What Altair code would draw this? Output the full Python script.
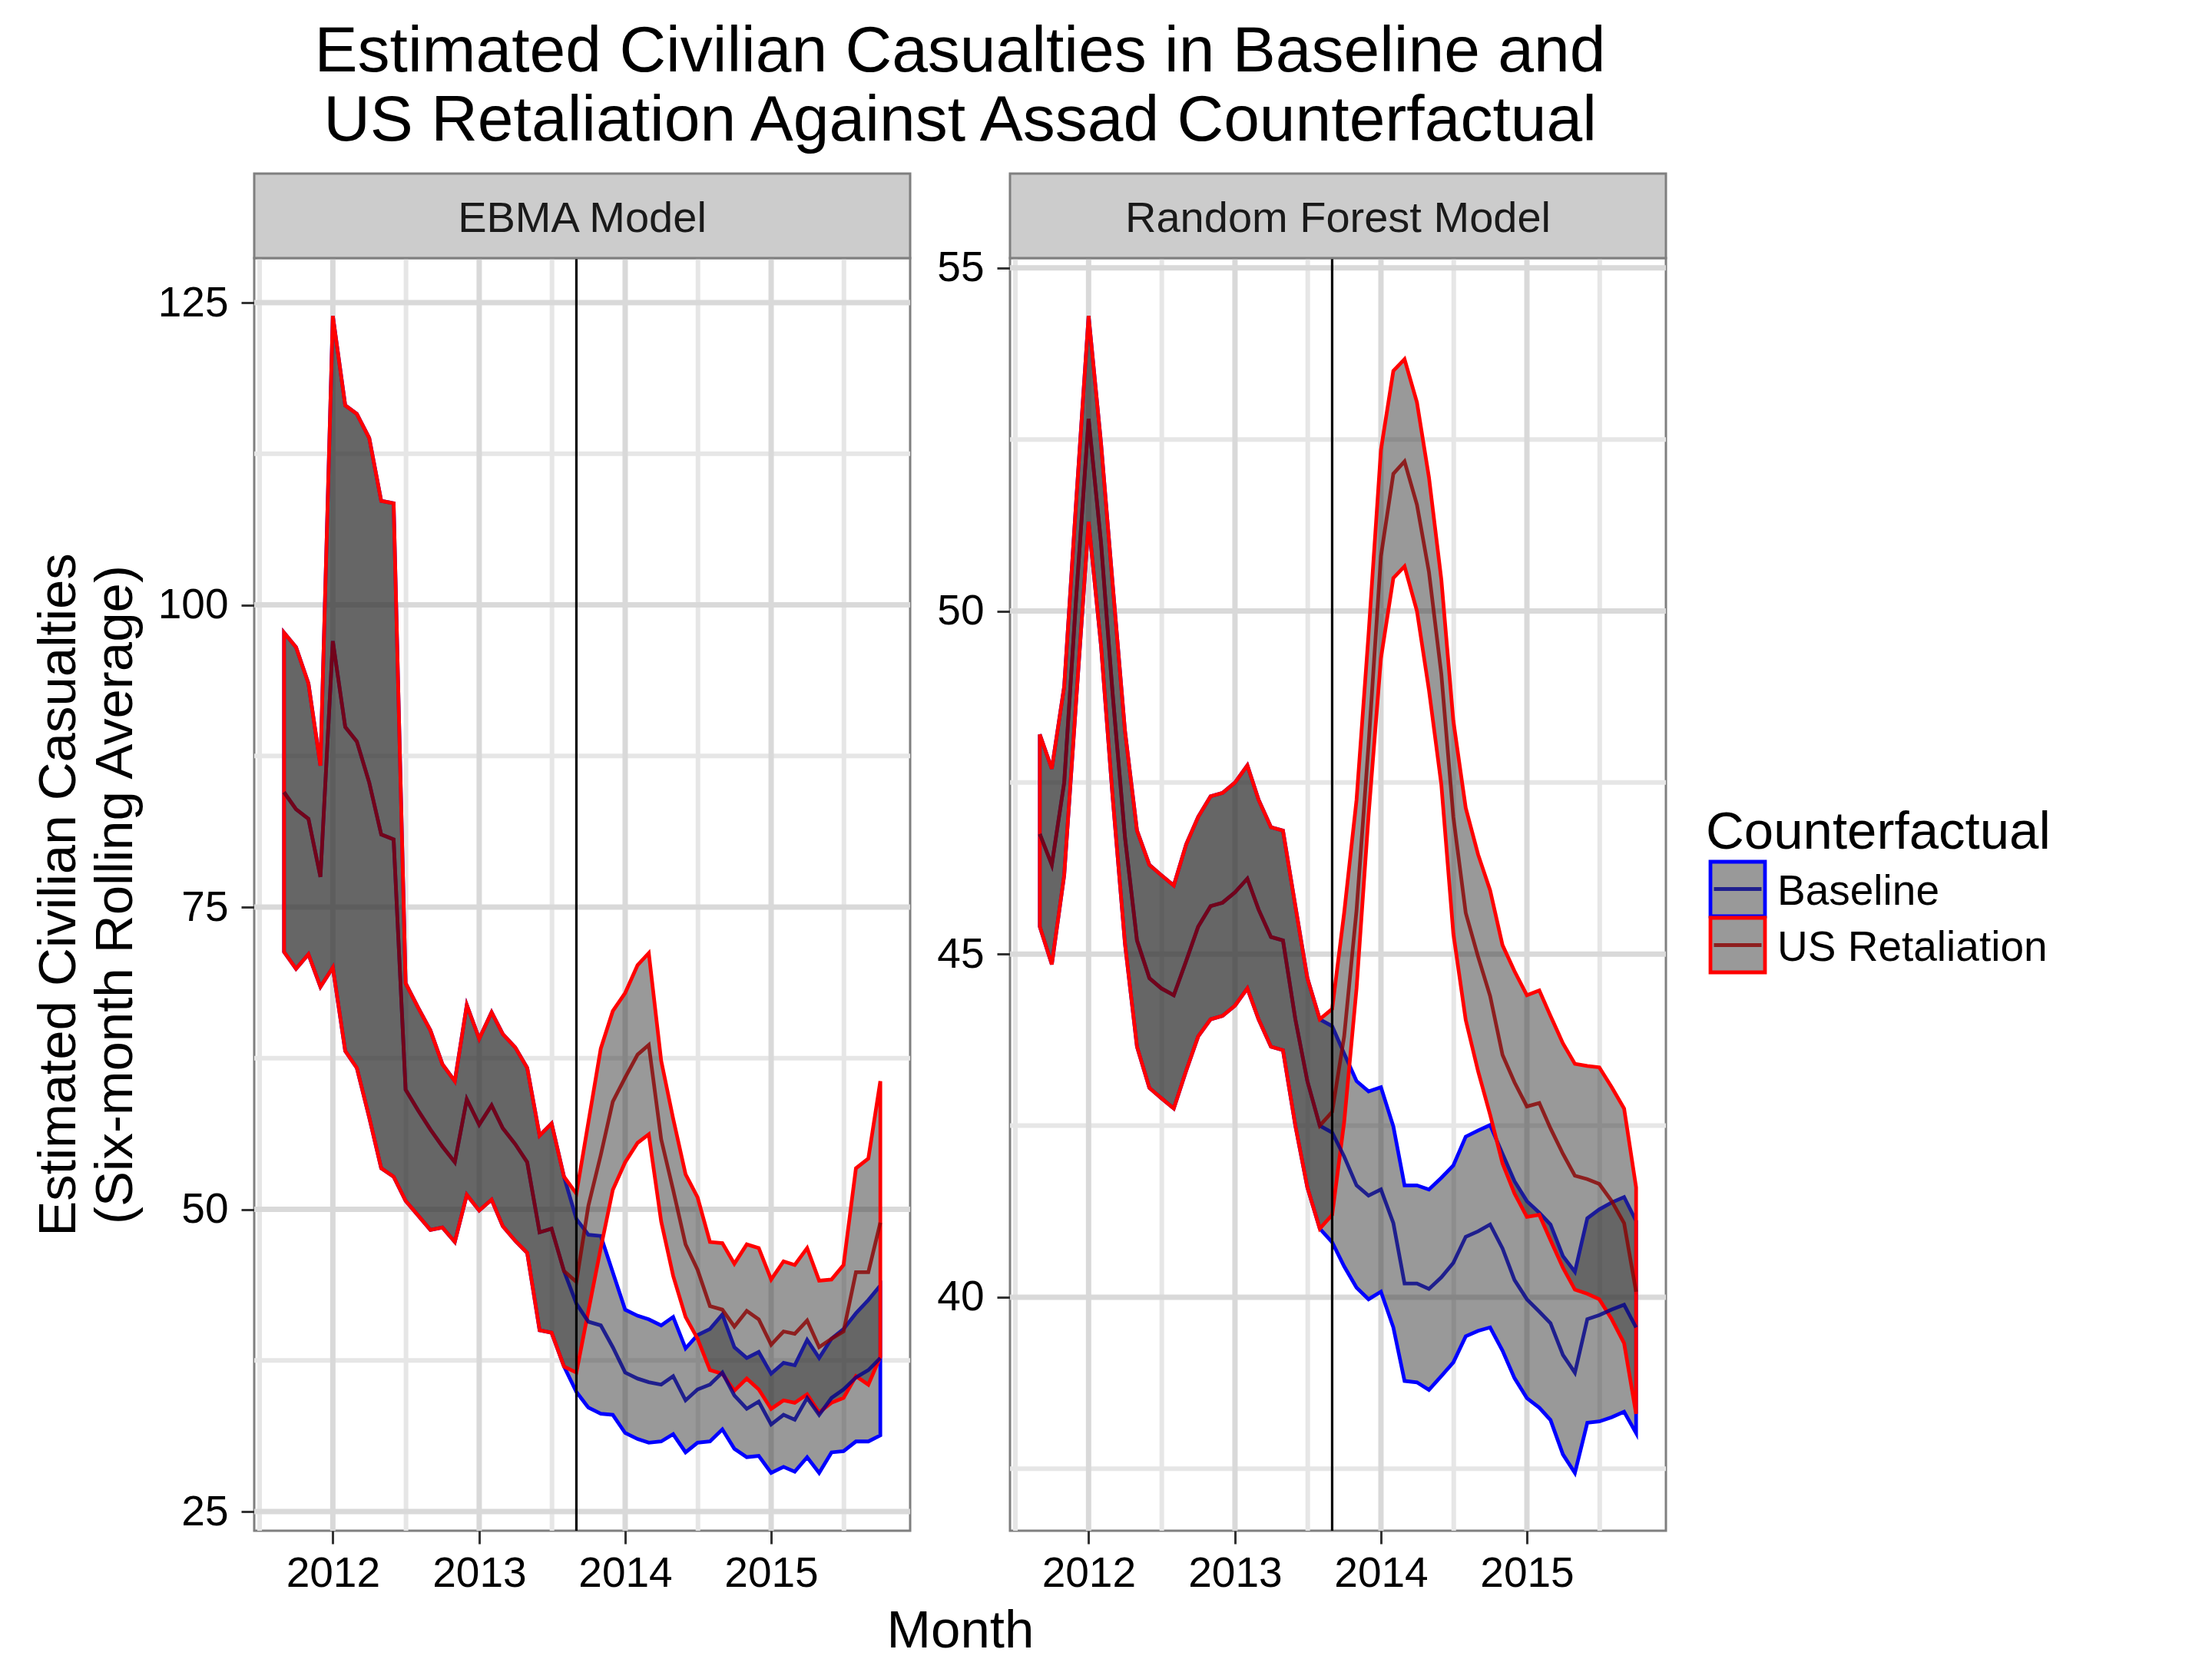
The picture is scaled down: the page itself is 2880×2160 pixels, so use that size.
import altair as alt
import pandas as pd

# ---------------- data ----------------
months = pd.date_range("2011-09-01", "2015-10-01", freq="MS")  # monthly, Sep 2011 .. Oct 2015
month_str = [d.strftime("%Y-%m-%dT00:00:00") for d in months]
counterfactuals = ["Baseline", "US Retaliation"]
models = ["EBMA Model", "Random Forest Model"]

# EBMA: common history Sep 2011 .. Aug 2013
ebma_shared_lo = [71.3, 69.9, 71.1, 68.4, 70.0, 63.1, 61.7, 57.6, 53.4, 52.7, 50.7, 49.5,
                  48.3, 48.5, 47.3, 51.2, 49.9, 50.8, 48.6, 47.4, 46.4, 40.0, 39.8, 37.0]
ebma_shared_med = [84.5, 83.1, 82.3, 77.5, 97.0, 89.9, 88.7, 85.3, 81.0, 80.6, 59.9, 58.2,
                   56.6, 55.2, 53.9, 59.1, 57.0, 58.6, 56.7, 55.4, 53.9, 48.1, 48.4, 44.9]
ebma_shared_hi = [97.7, 96.5, 93.5, 86.7, 123.9, 116.5, 115.8, 113.8, 108.6, 108.4, 68.7, 66.7,
                  64.8, 62.0, 60.6, 66.9, 64.1, 66.3, 64.5, 63.4, 61.7, 56.1, 57.1, 52.7]
# EBMA: Sep 2013 .. Oct 2015
ebma_base_lo = [34.9, 33.6, 33.1, 33.0, 31.5, 31.0, 30.7, 30.8, 31.4, 29.9, 30.7, 30.8, 31.8,
                30.2, 29.5, 29.6, 28.2, 28.7, 28.3, 29.5, 28.2, 29.9, 30.0, 30.8, 30.8, 31.3]
ebma_base_med = [42.2, 40.7, 40.4, 38.6, 36.5, 36.0, 35.7, 35.5, 36.2, 34.2, 35.1, 35.5, 36.5,
                 34.6, 33.5, 34.1, 32.2, 33.0, 32.6, 34.4, 33.0, 34.4, 35.1, 36.1, 36.7, 37.7]
ebma_base_hi = [49.2, 47.9, 47.8, 44.8, 41.7, 41.2, 40.9, 40.4, 41.1, 38.5, 39.6, 40.1, 41.3,
                38.6, 37.7, 38.2, 36.4, 37.3, 37.1, 39.2, 37.7, 39.3, 40.1, 41.4, 42.5, 43.7]
ebma_ret_lo = [36.5, 41.6, 46.8, 51.6, 53.9, 55.5, 56.2, 49.0, 44.5, 41.1, 39.3, 36.7, 36.4,
               35.0, 36.0, 35.1, 33.5, 34.2, 34.0, 34.7, 33.2, 34.0, 34.4, 36.2, 35.5, 37.8]
ebma_ret_med = [44.0, 50.3, 54.5, 58.9, 60.9, 62.8, 63.6, 55.8, 51.6, 47.1, 45.0, 42.0, 41.7,
                40.3, 41.6, 40.9, 38.8, 39.9, 39.7, 40.8, 38.6, 39.3, 39.9, 44.8, 44.8, 48.9]
ebma_ret_hi = [51.3, 57.2, 63.3, 66.4, 67.9, 70.2, 71.2, 62.3, 57.5, 52.9, 51.0, 47.3, 47.2,
               45.5, 47.1, 46.8, 44.2, 45.7, 45.4, 46.8, 44.1, 44.2, 45.4, 53.4, 54.2, 60.6]

# Random Forest: common history
rf_shared_lo = [45.4, 44.85, 46.15, 48.7, 51.3, 49.5, 47.3, 45.15, 43.65, 43.05, 42.9, 42.75,
                43.3, 43.8, 44.05, 44.1, 44.25, 44.5, 44.05, 43.65, 43.6, 42.5, 41.6, 41.0]
rf_shared_med = [46.75, 46.3, 47.5, 50.2, 52.8, 51.0, 48.8, 46.7, 45.2, 44.65, 44.5, 44.4,
                 44.9, 45.4, 45.7, 45.75, 45.9, 46.1, 45.65, 45.25, 45.2, 44.05, 43.15, 42.5]
rf_shared_hi = [48.2, 47.7, 48.9, 51.6, 54.3, 52.45, 50.4, 48.25, 46.8, 46.3, 46.15, 46.0,
                46.6, 47.0, 47.3, 47.35, 47.5, 47.75, 47.25, 46.85, 46.8, 45.7, 44.65, 44.05]
rf_base_lo = [40.8, 40.45, 40.14, 39.97, 40.08, 39.56, 38.78, 38.76, 38.65, 38.85, 39.05, 39.43, 39.51,
              39.56, 39.22, 38.82, 38.53, 38.39, 38.21, 37.71, 37.44, 38.17, 38.19, 38.25, 38.33, 38.02]
rf_base_med = [42.4, 42.05, 41.63, 41.48, 41.57, 41.08, 40.2, 40.2, 40.12, 40.29, 40.5, 40.88, 40.96,
               41.06, 40.71, 40.25, 39.97, 39.79, 39.62, 39.16, 38.9, 39.68, 39.74, 39.82, 39.89, 39.56]
rf_base_hi = [43.95, 43.55, 43.15, 43.0, 43.06, 42.49, 41.63, 41.63, 41.57, 41.74, 41.92, 42.34, 42.43,
              42.51, 42.09, 41.69, 41.4, 41.23, 41.06, 40.6, 40.37, 41.15, 41.28, 41.38, 41.46, 41.11]
rf_ret_lo = [41.2, 42.55, 44.5, 47.02, 49.31, 50.48, 50.65, 50.0, 48.85, 47.47, 45.3, 44.04, 43.29,
             42.66, 41.95, 41.51, 41.17, 41.2, 40.83, 40.43, 40.11, 40.05, 39.97, 39.68, 39.33, 38.3]
rf_ret_med = [42.7, 43.8, 45.64, 48.05, 50.8, 52.0, 52.18, 51.55, 50.57, 49.08, 47.0, 45.6, 44.96,
              44.39, 43.53, 43.13, 42.78, 42.83, 42.46, 42.09, 41.77, 41.72, 41.65, 41.4, 41.08, 40.08]
rf_ret_hi = [44.2, 45.6, 47.25, 49.66, 52.35, 53.5, 53.67, 53.04, 51.95, 50.46, 48.4, 47.13, 46.45,
             45.93, 45.13, 44.75, 44.4, 44.47, 44.1, 43.7, 43.4, 43.37, 43.35, 43.06, 42.75, 41.6]

event_date = ["2013-09-01T00:00:00"]
x_major = ["2012-01-01T00:00:00", "2013-01-01T00:00:00", "2014-01-01T00:00:00", "2015-01-01T00:00:00"]
x_minor = ["2011-07-02T00:00:00", "2012-07-02T00:00:00", "2013-07-02T00:00:00",
           "2014-07-02T00:00:00", "2015-07-02T00:00:00"]
x_tick_years = [2012, 2013, 2014, 2015]
ebma_y_major = [25, 50, 75, 100, 125]
ebma_y_minor = [37.5, 62.5, 87.5, 112.5]
rf_y_major = [40, 45, 50, 55]
rf_y_minor = [37.5, 42.5, 47.5, 52.5]

# ---------------- styling ----------------
FONT = "Liberation Sans"
W, H = 854, 1657
SPACING = 130
FILL = "#333333"
STROKE_RANGE = ["#0000ff", "#ff0000"]
MED_RANGE = ["#00008b", "#8b0000"]
LW = 4.8


def long_df(model, shared, base, ret):
    rows = []
    for cf, post in zip(counterfactuals, [base, ret]):
        lo = shared[0] + post[0]
        med = shared[1] + post[1]
        hi = shared[2] + post[2]
        for d, a, b, c in zip(month_str, lo, med, hi):
            rows.append({"model": model, "Counterfactual": cf, "date": d, "lo": a, "med": b, "hi": c})
    return pd.DataFrame(rows)


ebma_df = long_df("EBMA Model", (ebma_shared_lo, ebma_shared_med, ebma_shared_hi),
                  (ebma_base_lo, ebma_base_med, ebma_base_hi), (ebma_ret_lo, ebma_ret_med, ebma_ret_hi))
rf_df = long_df("Random Forest Model", (rf_shared_lo, rf_shared_med, rf_shared_hi),
                (rf_base_lo, rf_base_med, rf_base_hi), (rf_ret_lo, rf_ret_med, rf_ret_hi))

# x range: data range expanded by 5% on each side (as ggplot does)
span = months[-1] - months[0]
x0 = months[0] - span * 0.05
x1 = months[-1] + span * 0.05


def dt(ts):
    return alt.DateTime(year=ts.year, month=ts.month, date=ts.day, hours=ts.hour, minutes=ts.minute)


xscale = alt.Scale(domain=[dt(x0), dt(x1)], nice=False)
cscale = alt.Scale(domain=counterfactuals, range=STROKE_RANGE)
mscale = alt.Scale(domain=counterfactuals, range=MED_RANGE)
tick_dates = [alt.DateTime(year=y, month=1, date=1) for y in x_tick_years]


def panel(df, title, y_major, y_minor, first, legend=False):
    lo = df["lo"].min()
    hi = df["hi"].max()
    pad = (hi - lo) * 0.05
    yscale = alt.Scale(domain=[lo - pad, hi + pad], nice=False, zero=False)

    if first:
        xaxis = alt.Axis(values=tick_dates, format="%Y", title="Month",
                         titleX=W + SPACING / 2, titleY=151,
                         titleBaseline="alphabetic", titleAlign="center", titleFontSize=69)
        yaxis = alt.Axis(values=y_major, title=["Estimated Civilian Casualties", "(Six-month Rolling Average)"],
                         titleFontSize=69, titleLineHeight=74, titlePadding=20)
    else:
        xaxis = alt.Axis(values=tick_dates, format="%Y", title=None)
        yaxis = alt.Axis(values=y_major, title=None)

    X = lambda f: alt.X(f, scale=xscale, axis=xaxis)
    Y = lambda f: alt.Y(f, scale=yscale, axis=yaxis)

    gx_minor = alt.Chart(pd.DataFrame({"d": x_minor})).mark_rule(color="#e6e6e6", strokeWidth=6).encode(
        x=X("d:T"))
    gy_minor = alt.Chart(pd.DataFrame({"v": y_minor})).mark_rule(color="#e6e6e6", strokeWidth=6).encode(
        y=Y("v:Q"))
    gx_major = alt.Chart(pd.DataFrame({"d": x_major})).mark_rule(color="#d9d9d9", strokeWidth=7).encode(
        x=X("d:T"))
    gy_major = alt.Chart(pd.DataFrame({"v": y_major})).mark_rule(color="#d9d9d9", strokeWidth=7).encode(
        y=Y("v:Q"))

    layers = [gx_minor, gy_minor, gx_major, gy_major]
    for cf in counterfactuals:
        area = alt.Chart(df).transform_filter(alt.datum.Counterfactual == cf).mark_area(
            fill=FILL, fillOpacity=0.5, strokeWidth=LW, strokeJoin="miter").encode(
            x=X("date:T"), y=Y("lo:Q"), y2="hi:Q",
            stroke=alt.Stroke("Counterfactual:N", scale=cscale, legend=None))
        layers.append(area)
    for cf in counterfactuals:
        line = alt.Chart(df).transform_filter(alt.datum.Counterfactual == cf).mark_line(
            strokeWidth=LW, opacity=0.8).encode(
            x=X("date:T"), y=Y("med:Q"),
            color=alt.Color("Counterfactual:N", scale=mscale, legend=None))
        layers.append(line)

    vline = alt.Chart(pd.DataFrame({"d": event_date})).mark_rule(color="black", strokeWidth=3.2).encode(
        x=X("d:T"))
    layers.append(vline)

    strip_df = pd.DataFrame({"panel": [title]})
    strip_rect = alt.Chart(strip_df).mark_rect(fill="#cccccc", stroke="#7f7f7f", strokeWidth=3).encode(
        x=alt.value(0), x2=alt.value(W), y=alt.value(-110), y2=alt.value(0))
    strip_text = alt.Chart(strip_df).mark_text(fontSize=56, color="#1a1a1a", baseline="middle",
                                               align="center", font=FONT).encode(
        x=alt.value(W / 2), y=alt.value(-51), text="panel:N")
    layers += [strip_rect, strip_text]

    if legend:
        leg_df = pd.DataFrame({"Counterfactual": counterfactuals, "title": ["Counterfactual"] * 2})
        ltitle = alt.Chart(leg_df.head(1)).mark_text(fontSize=69, align="left", baseline="alphabetic",
                                                     color="black", font=FONT).encode(
            x=alt.value(906), y=alt.value(769), text="title:N")
        layers.append(ltitle)
        for cf, yc in zip(counterfactuals, [821.5, 894.5]):
            sub = alt.Chart(leg_df).transform_filter(alt.datum.Counterfactual == cf)
            box = sub.mark_square(filled=True, fill="#999999", size=71 * 71, strokeWidth=LW, opacity=1).encode(
                x=alt.value(947.5), y=alt.value(yc),
                stroke=alt.Stroke("Counterfactual:N", scale=cscale, legend=None))
            key_line = sub.mark_rule(strokeWidth=LW, opacity=0.8).encode(
                x=alt.value(947.5 - 31), x2=alt.value(947.5 + 31), y=alt.value(yc),
                color=alt.Color("Counterfactual:N", scale=mscale, legend=None))
            lab = sub.mark_text(fontSize=55, align="left", baseline="middle", color="black", font=FONT).encode(
                x=alt.value(999), y=alt.value(yc + 3), text="Counterfactual:N")
            layers += [box, key_line, lab]

    return alt.layer(*layers).properties(width=W, height=H)


ebma = panel(ebma_df, "EBMA Model", ebma_y_major, ebma_y_minor, first=True)
rf = panel(rf_df, "Random Forest Model", rf_y_major, rf_y_minor, first=False, legend=True)

chart = alt.hconcat(ebma, rf, spacing=SPACING, bounds="flush").properties(
    title=alt.TitleParams(
        ["Estimated Civilian Casualties in Baseline and", "US Retaliation Against Assad Counterfactual"],
        fontSize=84, font=FONT, fontWeight="normal", lineHeight=90, anchor="middle",
        frame="group", offset=22, color="black", dx=W + SPACING / 2),
    padding={"left": 32, "top": 18, "right": 10, "bottom": 2},
).configure(font=FONT).configure_view(
    stroke="#7f7f7f", strokeWidth=3
).configure_axis(
    labelFont=FONT, labelFontSize=55, labelColor="black", labelPadding=12,
    tickColor="#333333", tickWidth=3, tickSize=17, domain=False, grid=False,
    titleFont=FONT, titleFontWeight="normal", titleColor="black"
).configure_axisY(labelPadding=17)

chart.save("out.html", embed_options={"renderer": "svg", "actions": False})
